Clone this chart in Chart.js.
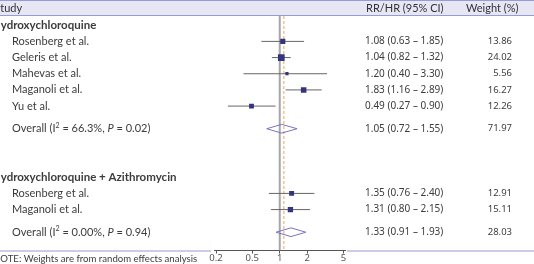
<!DOCTYPE html>
<html>
<head>
<meta charset="utf-8">
<script src="https://cdn.jsdelivr.net/npm/chart.js@4.4.1/dist/chart.umd.min.js"></script>
<style>
  html, body { margin: 0; padding: 0; background: #fff; }
  canvas { display: block; }
</style>
</head>
<body>
<canvas id="forest" width="534" height="264"></canvas>
<script>
// values
const groupNames = ['Hydroxychloroquine', 'Hydroxychloroquine + Azithromycin'];

const hcqStudies = ['Rosenberg et al.', 'Geleris et al.', 'Mahevas et al.', 'Maganoli et al.', 'Yu et al.'];
const hcqEst = [1.08, 1.04, 1.20, 1.83, 0.49];
const hcqLo = [0.63, 0.82, 0.40, 1.16, 0.27];
const hcqHi = [1.85, 1.32, 3.30, 2.89, 0.90];
const hcqWeight = [13.86, 24.02, 5.56, 16.27, 12.26];
const hcqOverall = [1.05, 0.72, 1.55];
const hcqOverallWeight = 71.97;
const hcqI2 = '66.3%';
const hcqP = '0.02';

const aziStudies = ['Rosenberg et al.', 'Maganoli et al.'];
const aziEst = [1.35, 1.31];
const aziLo = [0.76, 0.80];
const aziHi = [2.40, 2.15];
const aziWeight = [12.91, 15.11];
const aziOverall = [1.33, 0.91, 1.93];
const aziOverallWeight = 28.03;
const aziI2 = '0.00%';
const aziP = '0.94';

const pooledEst = 1.11;
const xTicks = [0.2, 0.5, 1, 2, 5];
const note = 'NOTE: Weights are from random effects analysis';

// row layout (in row units on the hidden y axis)
const Y_MAX = 14.5;
const rows = [];
let pos = 0.57;
function addGroup(name, studies, est, lo, hi, w, overall, overallW, i2, p) {
    rows.push({kind: 'group', label: name, pos: pos});
    for (let i = 0; i < studies.length; i++) {
        pos += 1;
        rows.push({kind: 'study', label: studies[i], est: est[i], lo: lo[i], hi: hi[i], weight: w[i], pos: pos});
    }
    pos += 1.4;
    rows.push({kind: 'overall', i2: i2, p: p, est: overall[0], lo: overall[1], hi: overall[2], weight: overallW, pos: pos});
    pos += 3;
}
addGroup(groupNames[0], hcqStudies, hcqEst, hcqLo, hcqHi, hcqWeight, hcqOverall, hcqOverallWeight, hcqI2, hcqP);
addGroup(groupNames[1], aziStudies, aziEst, aziLo, aziHi, aziWeight, aziOverall, aziOverallWeight, aziI2, aziP);

const studyRows = rows.filter(r => r.kind == 'study');
const overallRows = rows.filter(r => r.kind == 'overall');

var datasets = [];
datasets.push({
    type: 'scatter', order: 0,
    data: studyRows.map(r => ({x: r.est, y: r.pos})),
    pointStyle: 'rect',
    pointRadius: studyRows.map(r => 1.37 * Math.sqrt(r.weight) / Math.SQRT2),
    backgroundColor: '#34347c', borderWidth: 0
});
studyRows.forEach(r => datasets.push({
    type: 'line', order: 1,
    data: [{x: r.lo, y: r.pos}, {x: r.hi, y: r.pos}],
    borderColor: '#666', borderWidth: 1, pointRadius: 0
}));
overallRows.forEach(r => datasets.push({
    type: 'line', order: 1,
    data: [{x: r.lo, y: r.pos}, {x: r.est, y: r.pos - 0.27}, {x: r.hi, y: r.pos},
           {x: r.est, y: r.pos + 0.27}, {x: r.lo, y: r.pos}],
    borderColor: '#7575c2', borderWidth: 1, pointRadius: 0, fill: false
}));
datasets.push({
    type: 'line', order: 2,
    data: [{x: pooledEst, y: 0}, {x: pooledEst, y: Y_MAX}],
    borderColor: '#f0a457', borderWidth: 1, borderDash: [3, 2], pointRadius: 0
});
datasets.push({
    type: 'line', order: 3,
    data: [{x: 1, y: 0}, {x: 1, y: Y_MAX}],
    borderColor: '#a6a6a6', borderWidth: 2, pointRadius: 0
});

const textFont = '11px Lato';
const boldFont = 'bold 11.5px Lato';
const numFont = '10px "Noto Sans"';
const wFont = '9.5px "Noto Sans"';
const textColor = '#3c3c3c';
const lineColor = '#9a9ad2';

function drawRich(ctx, parts, x, y) {
    parts.forEach(p => {
        ctx.font = p.font;
        ctx.fillText(p.t, x, y + (p.dy || 0));
        x += ctx.measureText(p.t).width;
    });
}

const tablePlugin = {
    id: 'table',
    beforeDraw(chart) {
        const ctx = chart.ctx, area = chart.chartArea;
        ctx.save();
        ctx.fillStyle = '#e6e6f5';
        ctx.fillRect(0, 0, chart.width, area.top);
        ctx.strokeStyle = lineColor;
        ctx.lineWidth = 1;
        ctx.beginPath();
        ctx.moveTo(0, 0.5); ctx.lineTo(chart.width, 0.5);
        ctx.moveTo(0, area.top - 0.5); ctx.lineTo(chart.width, area.top - 0.5);
        ctx.moveTo(0, area.bottom + 0.5); ctx.lineTo(area.left - 3, area.bottom + 0.5);
        ctx.moveTo(area.right + 2, area.bottom + 0.5); ctx.lineTo(chart.width, area.bottom + 0.5);
        ctx.stroke();
        ctx.restore();
    },
    afterDraw(chart) {
        const ctx = chart.ctx, area = chart.chartArea, ys = chart.scales.y;
        ctx.save();
        ctx.textBaseline = 'middle';
        ctx.fillStyle = '#333';
        ctx.font = textFont;
        ctx.fillText('Study', -5.5, area.top / 2);
        ctx.fillText('RR/HR (95% CI)', 366, area.top / 2);
        ctx.fillText('Weight (%)', 466, area.top / 2);

        rows.forEach(r => {
            const y = ys.getPixelForValue(r.pos);
            ctx.fillStyle = textColor;
            ctx.textAlign = 'left';
            if (r.kind == 'group') {
                ctx.font = boldFont;
                ctx.fillText(r.label, -8, y);
                return;
            }
            if (r.kind == 'study') {
                ctx.font = textFont;
                ctx.fillText(r.label, 12, y);
            } else {
                drawRich(ctx, [
                    {t: 'Overall (I', font: textFont},
                    {t: '2', font: '7px Lato', dy: -3},
                    {t: ' = ' + r.i2 + ', ', font: textFont},
                    {t: 'P', font: 'italic 11px Lato'},
                    {t: ' = ' + r.p + ')', font: textFont}
                ], 12, y);
            }
            ctx.font = numFont;
            ctx.fillText(r.est.toFixed(2) + ' (' + r.lo.toFixed(2) + ' \u2013 ' + r.hi.toFixed(2) + ')', 365, y);
            ctx.textAlign = 'right';
            ctx.font = wFont;
            ctx.fillText(r.weight.toFixed(2), 512, y);
        });

        ctx.textAlign = 'left';
        ctx.font = '9.6px Lato';
        ctx.fillStyle = textColor;
        ctx.fillText(note, -7, 259);
        ctx.restore();
    }
};

const forest = new Chart(document.getElementById('forest'), {
    type: 'scatter',
    data: {datasets: datasets},
    options: {
        responsive: false,
        devicePixelRatio: 1,
        animation: false,
        layout: {padding: {left: 214, right: 189, top: 16, bottom: 1}},
        plugins: {legend: {display: false}, tooltip: {enabled: false}},
        scales: {
            x: {
                type: 'logarithmic', min: 0.19, max: 5.2,
                afterBuildTicks: scale => { scale.ticks = xTicks.map(v => ({value: v})); },
                ticks: {
                    callback: v => String(v),
                    color: '#555', padding: 0, maxRotation: 0, autoSkip: false,
                    font: {family: 'Noto Sans', size: 9.5, lineHeight: 1}
                },
                grid: {drawOnChartArea: false, drawTicks: true, tickLength: 3, color: '#555'},
                border: {color: '#555'}
            },
            y: {type: 'linear', reverse: true, min: 0, max: Y_MAX, display: false}
        }
    },
    plugins: [tablePlugin]
});
</script>
</body>
</html>
